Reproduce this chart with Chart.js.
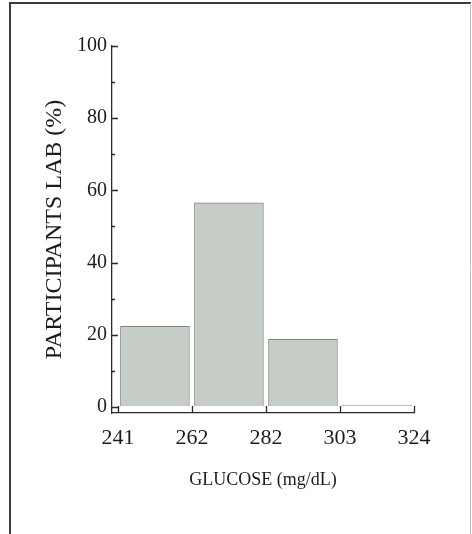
<!DOCTYPE html>
<html>
<head>
<meta charset="utf-8">
<script src="https://cdn.jsdelivr.net/npm/chart.js@4.4.1/dist/chart.umd.min.js"></script>
<style>
  html, body { margin: 0; padding: 0; background: #fff; }
  #wrap { width: 472px; height: 534px; position: relative; }
</style>
</head>
<body>
<div id="wrap"><canvas id="chartGlucose" width="472" height="534"></canvas></div>
<script>
// Bordas das classes (rótulos do eixo X) e percentual de participantes
const binEdges = ['241', '262', '282', '303', '324'];
const participantsPct = [22.4, 56.6, 18.8, 0.6];
const yTicks = [0, 20, 40, 60, 80, 100];

const serif = '"Liberation Serif", "DejaVu Serif", serif';
const ink = '#1c1c1c';

// Ticks para dentro + moldura, desenhados a partir das escalas do Chart.js
const axisDecor = {
    id: 'axisDecor',
    afterDraw(chart) {
        const ctx = chart.ctx;
        const x = chart.scales.x;
        const y = chart.scales.y;
        const area = chart.chartArea;
        ctx.save();
        ctx.strokeStyle = '#2a2a2a';
        ctx.lineWidth = 1.3;
        ctx.beginPath();
        for (let v = 0; v <= 100; v += 10) {
            const py = Math.round(y.getPixelForValue(v)) + 0.5;
            ctx.moveTo(area.left, py);
            ctx.lineTo(area.left + (v % 20 === 0 ? 6 : 3), py);
        }
        for (let i = 0; i < binEdges.length; i++) {
            const px = Math.round(x.getPixelForValue(i)) + 0.5;
            ctx.moveTo(px, area.bottom);
            ctx.lineTo(px, area.bottom - 7);
        }
        ctx.stroke();

        // moldura da figura
        ctx.strokeStyle = '#3a3a3a';
        ctx.lineWidth = 2;
        ctx.beginPath();
        ctx.moveTo(10, 534);
        ctx.lineTo(10, 3);
        ctx.lineTo(471, 3);
        ctx.stroke();
        ctx.strokeStyle = '#bdbdbd';
        ctx.lineWidth = 1;
        ctx.beginPath();
        ctx.moveTo(470.5, 3);
        ctx.lineTo(470.5, 534);
        ctx.stroke();
        ctx.restore();
    }
};

const ctx = document.getElementById('chartGlucose').getContext('2d');
new Chart(ctx, {
    type: 'bar',
    data: {
        datasets: [{
            label: 'Participants (%)',
            data: participantsPct.map((v, i) => ({ x: i + 0.5, y: v })),
            backgroundColor: '#c6ccc6',
            borderColor: '#7d827d',
            borderWidth: 1.2,
            barPercentage: 0.94,
            categoryPercentage: 1
        }]
    },
    options: {
        responsive: false,
        animation: false,
        layout: { padding: { top: 46, right: 58, bottom: 0, left: 20 } },
        plugins: {
            legend: { display: false },
            tooltip: { enabled: false }
        },
        scales: {
            x: {
                type: 'linear',
                offset: false,
                min: -0.08,
                max: binEdges.length - 1,
                afterBuildTicks: (axis) => {
                    axis.ticks = binEdges.map((_, i) => ({ value: i }));
                },
                afterFit: (axis) => { axis.height = 121; },
                grid: { display: true, drawOnChartArea: false, drawTicks: false },
                border: { display: true, color: '#2a2a2a', width: 1.3 },
                ticks: {
                    color: ink,
                    padding: 12,
                    maxRotation: 0,
                    font: { family: serif, size: 22 },
                    callback: (value) => binEdges[value]
                },
                title: {
                    display: true,
                    text: 'GLUCOSE (mg/dL)',
                    color: ink,
                    padding: 43,
                    font: { family: serif, size: 18 }
                }
            },
            y: {
                min: -1.7,
                max: 100,
                afterBuildTicks: (axis) => {
                    axis.ticks = yTicks.map((v) => ({ value: v }));
                },
                afterFit: (axis) => { axis.width = 92; },
                grid: { display: true, drawOnChartArea: false, drawTicks: false },
                border: { display: true, color: '#2a2a2a', width: 1.3 },
                ticks: {
                    color: ink,
                    padding: 5,
                    font: { family: serif, size: 20 }
                },
                title: {
                    display: true,
                    text: 'PARTICIPANTS LAB (%)',
                    color: ink,
                    padding: 20,
                    font: { family: serif, size: 24 }
                }
            }
        }
    },
    plugins: [axisDecor]
});
</script>
</body>
</html>
